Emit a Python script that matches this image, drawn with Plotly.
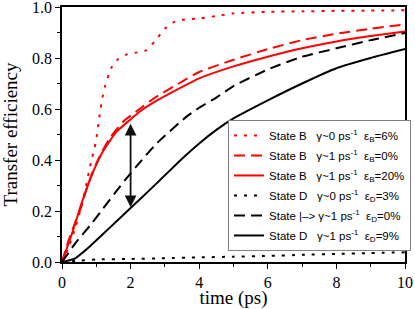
import plotly.graph_objects as go

# ---- data ----
t_b0 = [0, 0.2, 0.4, 0.55, 0.69, 0.78, 0.86, 0.95, 1.02, 1.08, 1.13, 1.18, 1.25, 1.36, 1.46, 1.64, 1.9, 2.2, 2.45, 2.7, 3.0, 3.25, 3.5, 4.0, 4.5, 5.0, 6, 7, 8, 9, 10]
y_b0 = [0, 0.06, 0.14, 0.21, 0.29, 0.35, 0.40, 0.446, 0.50, 0.56, 0.605, 0.645, 0.688, 0.734, 0.767, 0.796, 0.815, 0.822, 0.83, 0.865, 0.915, 0.94, 0.95, 0.955, 0.965, 0.975, 0.981, 0.983, 0.985, 0.986, 0.987]

t_b1 = [0, 0.18, 0.37, 0.57, 0.66, 0.86, 1.1, 1.39, 1.78, 2.22, 2.66, 3.34, 4.0, 5, 6, 7, 8, 9, 10]
y_b1 = [0, 0.08, 0.15, 0.22, 0.262, 0.341, 0.415, 0.485, 0.55, 0.596, 0.64, 0.695, 0.745, 0.793, 0.835, 0.87, 0.895, 0.915, 0.932]

t_b20 = [0, 0.3, 0.57, 0.91, 1.2, 1.59, 1.98, 2.27, 2.66, 3.34, 4.0, 5, 6, 7, 8, 9, 10]
y_b20 = [0, 0.115, 0.23, 0.354, 0.435, 0.511, 0.557, 0.59, 0.625, 0.675, 0.72, 0.767, 0.805, 0.838, 0.865, 0.886, 0.904]

t_d0 = [0, 0.5, 1, 2, 3, 4, 5, 6, 7, 8, 9, 10]
y_d0 = [0, 0.005, 0.01, 0.012, 0.015, 0.018, 0.021, 0.024, 0.028, 0.032, 0.035, 0.038]

t_m = [0, 0.37, 0.86, 1.2, 1.54, 1.83, 2.17, 2.76, 3.63, 4.0, 4.5, 5, 6, 7, 8, 9, 10]
y_m = [0, 0.07, 0.15, 0.21, 0.27, 0.32, 0.375, 0.465, 0.57, 0.605, 0.645, 0.69, 0.755, 0.805, 0.838, 0.87, 0.898]

t_d1 = [0, 0.37, 0.76, 1.34, 2.0, 2.5, 3.0, 3.5, 4, 4.5, 5, 6, 7, 8, 9, 10]
y_d1 = [0, 0.013, 0.055, 0.128, 0.212, 0.275, 0.34, 0.405, 0.465, 0.518, 0.563, 0.634, 0.70, 0.76, 0.80, 0.835]

x_ticks = [0, 2, 4, 6, 8, 10]
y_ticks = [0.0, 0.2, 0.4, 0.6, 0.8, 1.0]
y_tick_text = ["0.0", "0.2", "0.4", "0.6", "0.8", "1.0"]

arrow_x = 2
arrow_top = 0.548
arrow_bottom = 0.215

nb = "\u00a0"
names = [
    "State B" + nb*3 + "γ~0 ps<sup>-1</sup>" + nb*2 + "ε<sub>B</sub>=6%",
    "State B" + nb*3 + "γ~1 ps<sup>-1</sup>" + nb*2 + "ε<sub>B</sub>=0%",
    "State B" + nb*3 + "γ~1 ps<sup>-1</sup>" + nb*2 + "ε<sub>B</sub>=20%",
    "State D" + nb*3 + "γ~0 ps<sup>-1</sup>" + nb*2 + "ε<sub>D</sub>=3%",
    "State |–&gt;" + nb + "γ~1 ps<sup>-1</sup>" + nb*2 + "ε<sub>D</sub>=0%",
    "State D" + nb*3 + "γ~1 ps<sup>-1</sup>" + nb*2 + "ε<sub>D</sub>=9%",
]

series = [
    (t_b0, y_b0, "red", "3px,7px"),
    (t_b1, y_b1, "red", "11px,6px"),
    (t_b20, y_b20, "red", "solid"),
    (t_d0, y_d0, "black", "3px,7px"),
    (t_m, y_m, "black", "11px,6px"),
    (t_d1, y_d1, "black", "solid"),
]

fig = go.Figure()
for i, ((tx, ty, col, dash), nm) in enumerate(zip(series, names)):
    fig.add_trace(go.Scatter(x=tx, y=ty, mode="lines", name=nm, legendgroup=f"g{i}",
                             line=dict(color=col, width=2, dash=dash, shape="spline", smoothing=0.5)))

fig.add_annotation(x=arrow_x, y=arrow_bottom, ax=arrow_x, ay=arrow_top, xref="x", yref="y",
                   axref="x", ayref="y", text="", showarrow=True, arrowhead=2,
                   arrowside="end+start", arrowsize=1.3, arrowwidth=1.8, arrowcolor="#111")

serif = "Liberation Serif, Times New Roman, serif"
axis_common = dict(showline=True, linecolor="black", linewidth=1.5, showgrid=False, zeroline=False,
                   ticks="outside", ticklen=5, tickwidth=1.2, tickcolor="black", automargin=False,
                   ticklabeloverflow="allow",
                   tickfont=dict(family=serif, size=16, color="black"))

fig.update_layout(
    width=415, height=309,
    margin=dict(l=62, r=10, t=7, b=47, autoexpand=False),
    paper_bgcolor="white", plot_bgcolor="white",
    font=dict(family=serif, color="black"),
    showlegend=True,
    legend=dict(x=0.484, y=0.557, xanchor="left", yanchor="top",
                bgcolor="white", bordercolor="#808080", borderwidth=1,
                font=dict(family="Liberation Sans", size=11.5, color="black"),
                tracegroupgap=1, itemwidth=30),
    xaxis=dict(range=[0, 10], tickmode="array", tickvals=x_ticks, mirror=True,
               minor=dict(dtick=1, ticks="outside", ticklen=3, tickcolor="black"),
               title=dict(text="time (ps)", font=dict(family=serif, size=19, color="black"), standoff=5),
               **axis_common),
    yaxis=dict(range=[0, 1.0], tickmode="array", tickvals=y_ticks, ticktext=y_tick_text, mirror=True,
               minor=dict(dtick=0.1, ticks="outside", ticklen=3, tickcolor="black"),
               title=dict(text="Transfer efficiency", font=dict(family=serif, size=19, color="black"), standoff=9),
               **axis_common),
    xaxis2=dict(range=[0, 10], dtick=2, overlaying="x", side="top", showticklabels=False,
                ticks="inside", ticklen=5, tickcolor="black", showgrid=False, zeroline=False, automargin=False,
                minor=dict(dtick=1, ticks="inside", ticklen=3, tickcolor="black")),
    yaxis2=dict(range=[0, 1.0], tickmode="array", tickvals=y_ticks, overlaying="y", side="right", showticklabels=False,
                ticks="inside", ticklen=5, tickcolor="black", showgrid=False, zeroline=False, automargin=False,
                minor=dict(dtick=0.1, ticks="inside", ticklen=3, tickcolor="black")),
)

fig.write_html("out.html", config={"displayModeBar": False},
               post_script="document.body.style.margin='0';document.body.style.padding='0';")
